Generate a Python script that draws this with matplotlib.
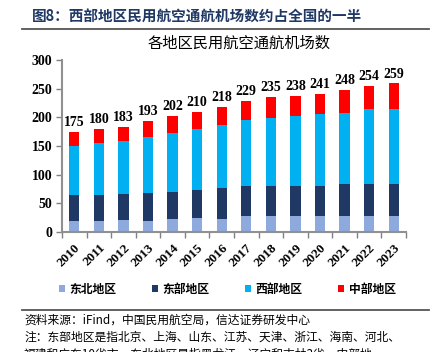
import matplotlib
matplotlib.use("Agg")
import matplotlib.pyplot as plt
import numpy as np
from matplotlib.patches import Patch

years = ["2010", "2011", "2012", "2013", "2014", "2015", "2016",
         "2017", "2018", "2019", "2020", "2021", "2022", "2023"]
northeast = [19, 19, 21, 20, 22, 24, 23, 28, 28, 28, 28, 28, 28, 28]
east = [46, 46, 46, 48, 48, 49, 53, 52, 52, 52, 52, 55, 55, 55]
west = [85, 90, 91, 98, 102, 106, 110, 115, 119, 122, 126, 125, 131, 132]
totals = [175, 180, 183, 193, 202, 210, 218, 229, 235, 238, 241, 248, 254, 259]
central = [t - a - b - c for t, a, b, c in zip(totals, northeast, east, west)]
series_names = ["东北地区", "东部地区", "西部地区", "中部地区"]
colors = ["#8EA9DB", "#1F3864", "#00B0F0", "#FF0000"]

CJK = ["Noto Sans CJK SC", "DejaVu Sans"]
SERIF = "Liberation Serif"

fig = plt.figure(figsize=(4.31, 3.52), dpi=100)
ax = fig.add_axes([0.1439, 0.341, 0.7981, 0.4886])

x = np.arange(len(years))
w = 0.42
bottom = np.zeros(len(years))
for vals, c in zip([northeast, east, west, central], colors):
    ax.bar(x, vals, w, bottom=bottom, color=c, edgecolor="none", zorder=2)
    bottom += np.array(vals)

for xi, t in zip(x, totals):
    ax.text(xi, t + 5, str(t), ha="center", va="bottom", fontsize=10,
            fontweight="bold", family=SERIF)

ax.set_xlim(-0.5, len(years) - 0.5)
ax.set_ylim(0, 300)
ax.set_yticks(range(0, 301, 50))
ax.set_yticklabels([str(v) for v in range(0, 301, 50)], fontsize=10,
                   fontweight="bold", family=SERIF)
ax.set_xticks(x)
ax.set_xticklabels(years, rotation=45, ha="right", rotation_mode="anchor",
                   fontsize=9.5, fontweight="bold", family=SERIF)
ax.tick_params(axis="x", length=0, pad=7)
ax.set_xticks(np.arange(-0.5, len(years), 1), minor=True)
ax.tick_params(axis="x", which="minor", length=4, width=1, color="#808080", direction="out")
ax.tick_params(axis="y", length=4, width=1, color="#808080", direction="out", pad=3)
for s in ["top", "right"]:
    ax.spines[s].set_visible(False)
for s in ["left", "bottom"]:
    ax.spines[s].set_color("#909090")
    ax.spines[s].set_linewidth(1.5)

ax.set_title("各地区民用航空通航机场数", fontsize=11, family=CJK, pad=9,
             x=0.515)

# header
fig.text(0.074, 0.952, "图8：西部地区民用航空通航机场数约占全国的一半", fontsize=10.5,
         fontweight="bold", family=CJK, color="#1F3864", va="center")
fig.add_artist(plt.Line2D([0.051, 0.995], [0.917, 0.917], color="#555555", lw=1.3))

handles = [Patch(facecolor=c, edgecolor="none") for c in colors]
leg = fig.legend(handles, series_names, loc="center", bbox_to_anchor=(0.527, 0.178),
                 ncol=4, frameon=False, handlelength=0.55, handleheight=0.55,
                 handletextpad=0.35, columnspacing=3.0,
                 prop={"family": CJK, "size": 8.5, "weight": "bold"})

fig.add_artist(plt.Line2D([0.051, 0.995], [0.119, 0.119], color="#555555", lw=1.3))
fig.text(0.056, 0.09, "资料来源：iFind，中国民用航空局，信达证券研发中心", fontsize=8.5,
         family=CJK, style="italic", va="center")
fig.text(0.056, 0.043, "注：东部地区是指北京、上海、山东、江苏、天津、浙江、海南、河北、",
         fontsize=8.5, family=CJK, style="italic", va="center")
fig.text(0.056, -0.005, "福建和广东10省市，东北地区是指黑龙江、辽宁和吉林3省，中部地",
         fontsize=8.5, family=CJK, style="italic", va="center")

fig.savefig("out.png", dpi=100)
